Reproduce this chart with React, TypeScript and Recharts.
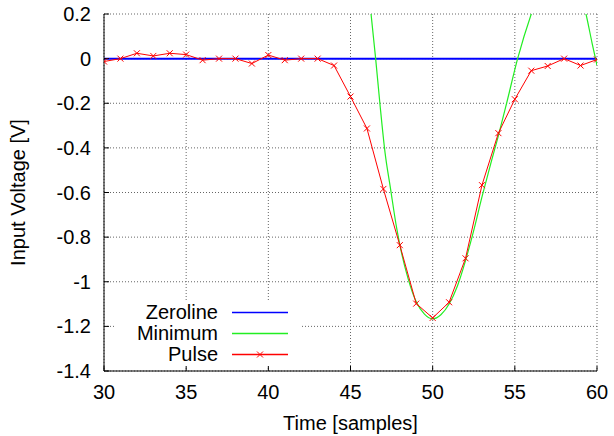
// Pulse vs. fitted minimum, gnuplot-like look
import {
  CartesianGrid,
  Legend,
  Line,
  LineChart,
  XAxis,
  YAxis,
} from 'recharts'

const seriesNames = ['Zeroline', 'Minimum', 'Pulse']

const xTicks = [30, 35, 40, 45, 50, 55, 60]
const yTicks = [-1.4, -1.2, -1, -0.8, -0.6, -0.4, -0.2, 0, 0.2]

const zeroX = [30, 60]
const zeroV = [0, 0]

const pulseX = [
  30, 31, 32, 33, 34, 35, 36, 37, 38, 39, 40, 41, 42, 43, 44, 45,
  46, 47, 48, 49, 50, 51, 52, 53, 54, 55, 56, 57, 58, 59, 60,
]
const pulseV = [
  -0.013, 0, 0.024, 0.012, 0.024, 0.018, -0.007, 0, 0, -0.022, 0.016, -0.007, 0, 0, -0.031, -0.17,
  -0.313, -0.584, -0.836, -1.098, -1.162, -1.092, -0.895, -0.567, -0.334, -0.182, -0.054, -0.033, 0, -0.031, -0.004,
]

// fitted curve, read along its length (parts above 0.2 leave the frame)
const minX = [
  45.6, 46.0, 46.25, 46.53, 46.8, 47.1, 47.43, 47.81, 48.0, 48.5, 49.0, 49.5, 50.0,
  50.5, 51.0, 51.5, 52.0, 52.5, 53.0, 53.5, 54.0, 54.5, 55.17, 56.0,
  56.5, 57.0, 57.5, 58.0, 58.5, 59.0, 59.33, 59.7, 60.0,
]
const minV = [
  0.62, 0.37, 0.2, 0, -0.21, -0.42, -0.58, -0.76, -0.834, -0.985, -1.09, -1.145, -1.166,
  -1.148, -1.1, -1.02, -0.905, -0.77, -0.62, -0.48, -0.345, -0.2, 0, 0.2,
  0.3, 0.37, 0.41, 0.41, 0.37, 0.29, 0.2, 0.07, -0.03,
]

const zeroData = zeroX.map((x, i) => ({ x, v: zeroV[i] }))
const pulseData = pulseX.map((x, i) => ({ x, v: pulseV[i] }))
const minData = minX.map((x, i) => ({ x, v: minV[i] }))

const FONT = '"Liberation Sans", Arial, sans-serif'

function XMark(props: any) {
  const { cx, cy } = props
  if (cx == null || cy == null) return null
  return (
    <path
      d={`M${cx - 3},${cy - 3}L${cx + 3},${cy + 3}M${cx - 3},${cy + 3}L${cx + 3},${cy - 3}`}
      stroke="#ff0000"
      strokeWidth={1}
      fill="none"
    />
  )
}

function yLabel(props: any) {
  const vb = props.viewBox || { x: 0, y: 0, height: 0 }
  const cx = vb.x + 25
  const cy = vb.y + vb.height / 2
  return (
    <text
      x={cx}
      y={cy}
      transform={`rotate(-90 ${cx} ${cy})`}
      textAnchor="middle"
      fontSize={20}
      fill="#000"
    >
      Input Voltage [V]
    </text>
  )
}

function LegendBox(props: any) {
  const items = [...(props.payload || [])].sort(
    (a: any, b: any) => seriesNames.indexOf(a.value) - seriesNames.indexOf(b.value),
  )
  return (
    <div
      style={{
        position: 'absolute',
        left: 0,
        top: 0,
        width: 184,
        height: 64,
        background: '#fff',
        fontFamily: FONT,
      }}
    >
      {items.map((e: any) => (
        <div key={e.value} style={{ display: 'flex', height: 21, alignItems: 'center' }}>
          <span style={{ width: 102, textAlign: 'right', fontSize: 20, lineHeight: '21px', color: '#000' }}>
            {e.value}
          </span>
          <svg width={56} height={21} style={{ marginLeft: 14, display: 'block' }}>
            <line x1={0} y1={10.5} x2={56} y2={10.5} stroke={e.color} strokeWidth={1.5} />
            {e.value === 'Pulse' && <XMark cx={28} cy={10.5} />}
          </svg>
        </div>
      ))}
    </div>
  )
}

export default function App() {
  const fmt = (v: number) => String(Number(v.toFixed(1)))
  return (
    <div style={{ width: 614, height: 436, fontFamily: FONT, background: '#fff' }}>
      <style>{'body{margin:0}'}</style>
      <LineChart width={614} height={436} margin={{ top: 14, right: 17, bottom: 0, left: 0 }}>
        <CartesianGrid stroke="#666" strokeDasharray="1 2" />
        <XAxis
          dataKey="x"
          type="number"
          domain={[30, 60]}
          ticks={xTicks}
          allowDataOverflow
          height={65}
          tickSize={-5}
          tickMargin={19}
          stroke="#000"
          tick={{ fill: '#000', fontSize: 20 }}
          tickLine={{ stroke: '#000' }}
          label={{ value: 'Time [samples]', position: 'insideBottom', offset: 6, fill: '#000', fontSize: 20 }}
        />
        <XAxis
          xAxisId="top"
          orientation="top"
          dataKey="x"
          type="number"
          domain={[30, 60]}
          ticks={xTicks}
          height={0}
          tickSize={-5}
          stroke="#000"
          tickFormatter={() => ''}
        />
        <YAxis
          type="number"
          domain={[-1.4, 0.2]}
          ticks={yTicks}
          allowDataOverflow
          width={104}
          tickSize={-5}
          tickMargin={18}
          stroke="#000"
          tick={{ fill: '#000', fontSize: 20 }}
          tickLine={{ stroke: '#000' }}
          tickFormatter={fmt}
          label={{ content: yLabel }}
        />
        <YAxis
          yAxisId="right"
          orientation="right"
          type="number"
          domain={[-1.4, 0.2]}
          ticks={yTicks}
          width={0}
          tickSize={-5}
          stroke="#000"
          tickFormatter={() => ''}
        />
        <Legend
          content={<LegendBox />}
          wrapperStyle={{ left: 116, top: 302, width: 0, height: 0 }}
        />
        <Line
          data={zeroData}
          dataKey="v"
          name="Zeroline"
          type="linear"
          stroke="#0000ff"
          strokeWidth={2}
          dot={false}
          activeDot={false}
          isAnimationActive={false}
        />
        <Line
          data={minData}
          dataKey="v"
          name="Minimum"
          type="monotone"
          stroke="#22ee22"
          strokeWidth={1.2}
          dot={false}
          activeDot={false}
          isAnimationActive={false}
        />
        <Line
          data={pulseData}
          dataKey="v"
          name="Pulse"
          type="linear"
          stroke="#ff0000"
          strokeWidth={1}
          dot={<XMark />}
          activeDot={false}
          isAnimationActive={false}
        />
      </LineChart>
    </div>
  )
}
